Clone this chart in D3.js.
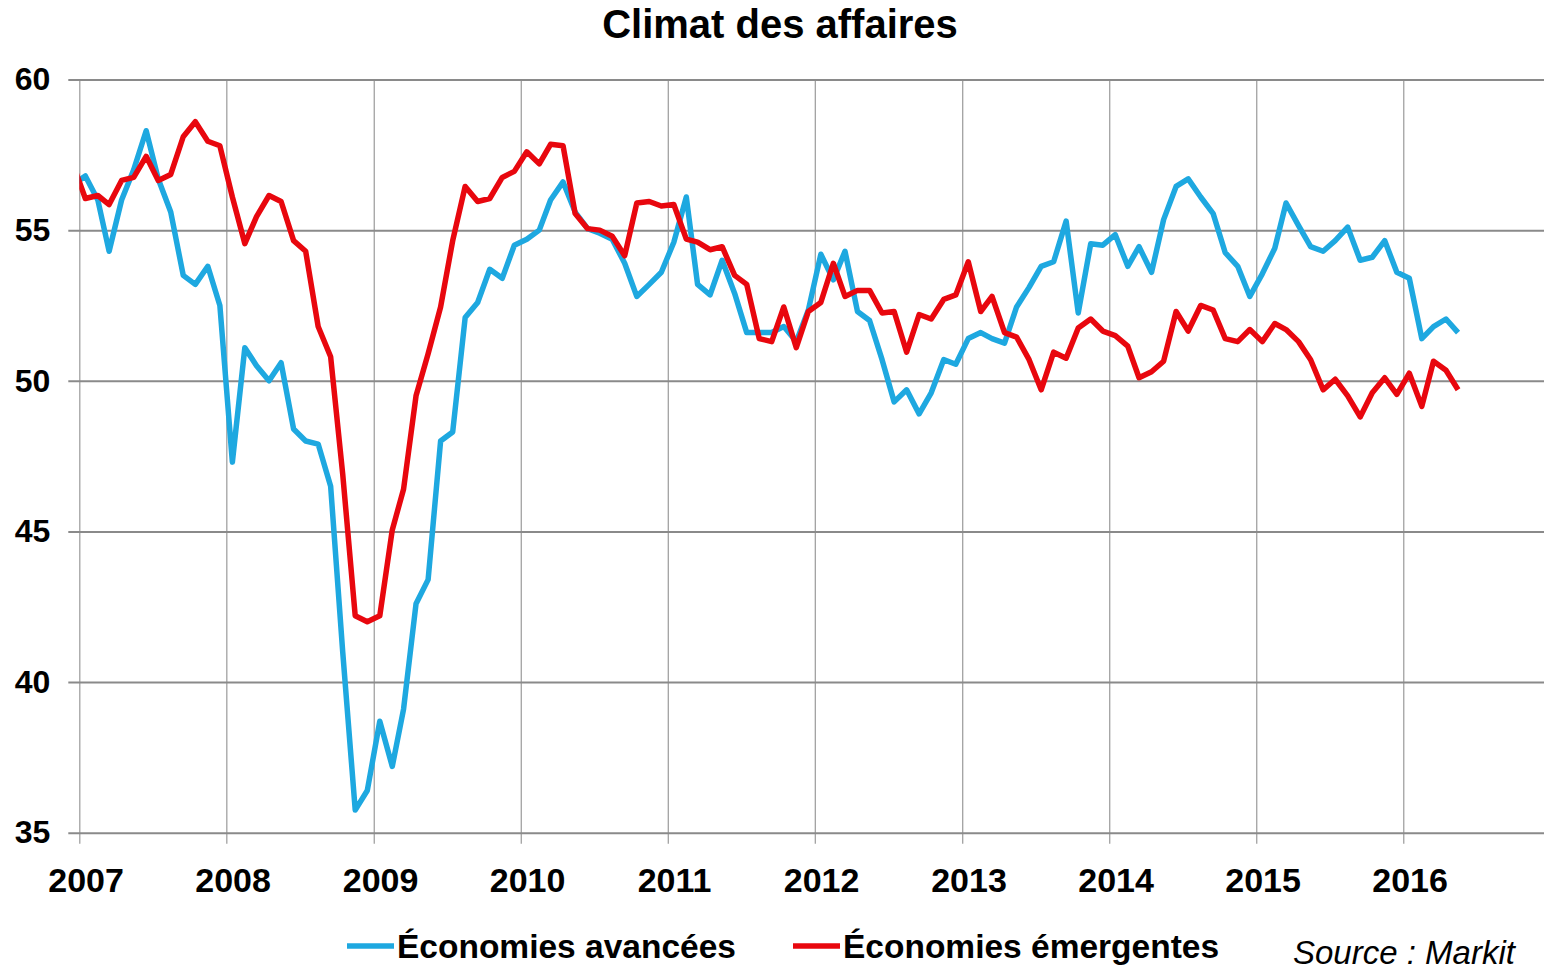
<!DOCTYPE html>
<html lang="fr">

<head>
    <meta charset="UTF-8">
    <title>Climat des affaires</title>
    <style>
        body { margin: 0; background: #fff; }
        svg { display: block; font-family: "Liberation Sans", Arial, sans-serif; }
    </style>
</head>

<body>
    <script type='text/javascript' src='https://d3js.org/d3.v7.min.js'></script>
    <script>
        // monthly PMI values, first point = Dec 2006 (cut by the plot edge)
        var avancees = [56.5,
            56.8, 56.0, 54.3, 56.0, 57.0, 58.3, 56.7, 55.6, 53.5, 53.2, 53.8, 52.5,
            47.3, 51.1, 50.5, 50.0, 50.6, 48.4, 48.0, 47.9, 46.5, 41.0, 35.75, 36.4,
            38.7, 37.2, 39.1, 42.6, 43.4, 48.0, 48.3, 52.1, 52.6, 53.7, 53.4, 54.5,
            54.7, 55.0, 56.0, 56.6, 55.6, 55.05, 54.9, 54.7, 53.9, 52.8, 53.2, 53.6,
            54.6, 56.1, 53.2, 52.85, 54.0, 52.9, 51.6, 51.6, 51.6, 51.8, 51.3, 52.35,
            54.2, 53.35, 54.3, 52.3, 52.0, 50.7, 49.3, 49.7, 48.9, 49.6, 50.7, 50.55,
            51.4, 51.6, 51.4, 51.25, 52.45, 53.1, 53.8, 53.95, 55.3, 52.25, 54.55, 54.5,
            54.85, 53.8, 54.45, 53.6, 55.35, 56.45, 56.7, 56.1, 55.55, 54.25, 53.8, 52.8,
            53.55, 54.4, 55.9, 55.15, 54.45, 54.3, 54.65, 55.1, 54.0, 54.1, 54.65, 53.6,
            53.4, 51.4, 51.8, 52.05, 51.6
        ];
        var emergentes = [57.2,
            56.05, 56.15, 55.85, 56.65, 56.75, 57.45, 56.65, 56.85, 58.1, 58.6, 57.95, 57.8,
            56.1, 54.55, 55.45, 56.15, 55.95, 54.65, 54.3, 51.8, 50.8, 46.9, 42.2, 42.0,
            42.2, 45.05, 46.4, 49.5, 50.9, 52.45, 54.65, 56.45, 55.95, 56.05, 56.75, 56.95,
            57.6, 57.2, 57.85, 57.8, 55.55, 55.05, 55.0, 54.8, 54.15, 55.9, 55.95, 55.8,
            55.85, 54.7, 54.6, 54.35, 54.45, 53.5, 53.2, 51.4, 51.3, 52.45, 51.1, 52.3,
            52.6, 53.9, 52.8, 53.0, 53.0, 52.25, 52.3, 50.95, 52.2, 52.05, 52.7, 52.85,
            53.95, 52.3, 52.8, 51.6, 51.45, 50.7, 49.7, 50.95, 50.75, 51.75, 52.05, 51.65,
            51.5, 51.15, 50.1, 50.3, 50.65, 52.3, 51.65, 52.5, 52.35, 51.4, 51.3, 51.7,
            51.3, 51.9, 51.7, 51.3, 50.7, 49.7, 50.05, 49.5, 48.8, 49.6, 50.1, 49.55,
            50.25, 49.15, 50.65, 50.35, 49.7
        ];
        var yTicks = [35, 40, 45, 50, 55, 60];
        var firstYear = 2007, lastYear = 2017;
        var seriesNames = ["Économies avancées", "Économies émergentes"];
        var seriesColors = ["#1ea8e0", "#e8070e"];

        const width = 1544, height = 974;
        const marginLeft = 79.3, marginTop = 79.5;
        const plotW = 1471.4, plotH = 753.2;

        const svg = d3.select("body").append("svg")
            .attr("width", width)
            .attr("height", height);

        svg.append("text")
            .attr("x", 780)
            .attr("y", 38)
            .attr("text-anchor", "middle")
            .attr("font-size", 40)
            .attr("font-weight", "bold")
            .text("Climat des affaires");

        const g = svg.append("g").attr("transform", "translate(" + marginLeft + "," + marginTop + ")");

        var x = d3.scaleTime()
            .domain([new Date(firstYear, 0, 1), new Date(lastYear, 0, 1)])
            .range([0, plotW]);
        var y = d3.scaleLinear().domain([35, 60]).range([plotH, 0]);

        // vertical grid + year labels
        var xAxis = g.append("g")
            .attr("transform", "translate(0," + plotH + ")")
            .call(d3.axisBottom(x)
                .ticks(d3.timeYear.every(1))
                .tickSize(-plotH)
                .tickPadding(35)
                .tickFormat(d3.timeFormat("%Y")));
        xAxis.select(".domain").remove();
        xAxis.selectAll(".tick")
            .filter(d => d.getFullYear() >= lastYear)
            .select("text").remove();
        xAxis.selectAll(".tick line")
            .attr("y1", 11)
            .attr("stroke", "#9a9a9a")
            .attr("stroke-width", 1.2);
        xAxis.selectAll(".tick text")
            .attr("dx", 6.3)
            .attr("font-size", 34)
            .attr("font-weight", "bold")
            .attr("fill", "#000");

        // horizontal grid + value labels
        var yAxis = g.append("g")
            .call(d3.axisLeft(y)
                .tickValues(yTicks)
                .tickSize(-(plotW + 10))
                .tickPadding(29));
        yAxis.select(".domain").remove();
        yAxis.selectAll(".tick line")
            .attr("x1", -11)
            .attr("stroke", "#8a8a8a")
            .attr("stroke-width", 2);
        yAxis.selectAll(".tick text")
            .attr("font-size", 32)
            .attr("font-weight", "bold")
            .attr("fill", "#000");

        g.append("clipPath").attr("id", "plot")
            .append("rect")
            .attr("x", 0).attr("y", -20)
            .attr("width", plotW).attr("height", plotH + 40);

        var line = d3.line()
            .x((d, i) => x(new Date(firstYear - 1, 11 + i, 16)))
            .y(d => y(d));

        [avancees, emergentes].forEach(function(s, k) {
            g.append("path")
                .datum(s)
                .attr("clip-path", "url(#plot)")
                .attr("fill", "none")
                .attr("stroke", seriesColors[k])
                .attr("stroke-width", 5.5)
                .attr("stroke-linejoin", "round")
                .attr("d", line);
        });

        // legend
        var legendX = [347, 793];
        var legend = svg.append("g");
        seriesNames.forEach(function(name, k) {
            legend.append("line")
                .attr("x1", legendX[k]).attr("x2", legendX[k] + 47)
                .attr("y1", 946).attr("y2", 946)
                .attr("stroke", seriesColors[k])
                .attr("stroke-width", 5.5);
            legend.append("text")
                .attr("x", legendX[k] + 50)
                .attr("y", 958)
                .attr("font-size", 33.5)
                .attr("font-weight", "bold")
                .text(name);
        });

        svg.append("text")
            .attr("x", 1293)
            .attr("y", 964)
            .attr("font-size", 33)
            .attr("font-style", "italic")
            .text("Source : Markit");
    </script>
</body>

</html>
